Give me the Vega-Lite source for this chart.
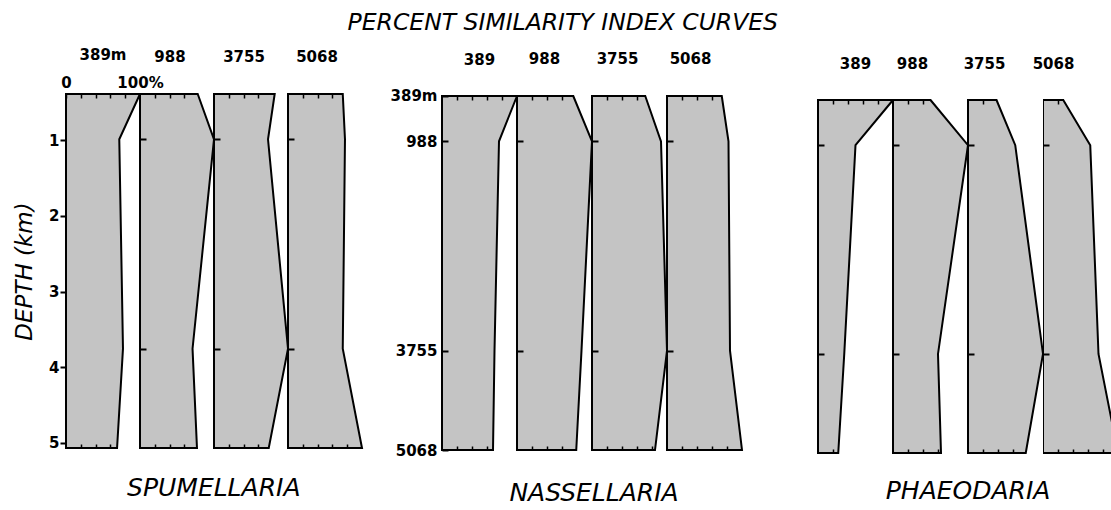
{
  "$schema": "https://vega.github.io/schema/vega-lite/v6.json",
  "background": "white",
  "padding": {"left": 13, "top": 10, "right": 0, "bottom": 0},
  "data": {"values": [
    {"group": "SPUMELLARIA", "station": 389, "depth": 389, "similarity": 100},
    {"group": "SPUMELLARIA", "station": 389, "depth": 988, "similarity": 72},
    {"group": "SPUMELLARIA", "station": 389, "depth": 3755, "similarity": 77},
    {"group": "SPUMELLARIA", "station": 389, "depth": 5068, "similarity": 69},
    {"group": "SPUMELLARIA", "station": 988, "depth": 389, "similarity": 78},
    {"group": "SPUMELLARIA", "station": 988, "depth": 988, "similarity": 100},
    {"group": "SPUMELLARIA", "station": 988, "depth": 3755, "similarity": 71},
    {"group": "SPUMELLARIA", "station": 988, "depth": 5068, "similarity": 77},
    {"group": "SPUMELLARIA", "station": 3755, "depth": 389, "similarity": 82},
    {"group": "SPUMELLARIA", "station": 3755, "depth": 988, "similarity": 73},
    {"group": "SPUMELLARIA", "station": 3755, "depth": 3755, "similarity": 100},
    {"group": "SPUMELLARIA", "station": 3755, "depth": 5068, "similarity": 74},
    {"group": "SPUMELLARIA", "station": 5068, "depth": 389, "similarity": 74},
    {"group": "SPUMELLARIA", "station": 5068, "depth": 988, "similarity": 77},
    {"group": "SPUMELLARIA", "station": 5068, "depth": 3755, "similarity": 74},
    {"group": "SPUMELLARIA", "station": 5068, "depth": 5068, "similarity": 100},
    {"group": "NASSELLARIA", "station": 389, "depth": 389, "similarity": 100},
    {"group": "NASSELLARIA", "station": 389, "depth": 988, "similarity": 76},
    {"group": "NASSELLARIA", "station": 389, "depth": 3755, "similarity": 70},
    {"group": "NASSELLARIA", "station": 389, "depth": 5068, "similarity": 68},
    {"group": "NASSELLARIA", "station": 988, "depth": 389, "similarity": 75},
    {"group": "NASSELLARIA", "station": 988, "depth": 988, "similarity": 100},
    {"group": "NASSELLARIA", "station": 988, "depth": 3755, "similarity": 86},
    {"group": "NASSELLARIA", "station": 988, "depth": 5068, "similarity": 79},
    {"group": "NASSELLARIA", "station": 3755, "depth": 389, "similarity": 71},
    {"group": "NASSELLARIA", "station": 3755, "depth": 988, "similarity": 92},
    {"group": "NASSELLARIA", "station": 3755, "depth": 3755, "similarity": 100},
    {"group": "NASSELLARIA", "station": 3755, "depth": 5068, "similarity": 84},
    {"group": "NASSELLARIA", "station": 5068, "depth": 389, "similarity": 73},
    {"group": "NASSELLARIA", "station": 5068, "depth": 988, "similarity": 82},
    {"group": "NASSELLARIA", "station": 5068, "depth": 3755, "similarity": 84},
    {"group": "NASSELLARIA", "station": 5068, "depth": 5068, "similarity": 100},
    {"group": "PHAEODARIA", "station": 389, "depth": 389, "similarity": 100},
    {"group": "PHAEODARIA", "station": 389, "depth": 988, "similarity": 50},
    {"group": "PHAEODARIA", "station": 389, "depth": 3755, "similarity": 35},
    {"group": "PHAEODARIA", "station": 389, "depth": 5068, "similarity": 27},
    {"group": "PHAEODARIA", "station": 988, "depth": 389, "similarity": 50},
    {"group": "PHAEODARIA", "station": 988, "depth": 988, "similarity": 100},
    {"group": "PHAEODARIA", "station": 988, "depth": 3755, "similarity": 60},
    {"group": "PHAEODARIA", "station": 988, "depth": 5068, "similarity": 64},
    {"group": "PHAEODARIA", "station": 3755, "depth": 389, "similarity": 38},
    {"group": "PHAEODARIA", "station": 3755, "depth": 988, "similarity": 63},
    {"group": "PHAEODARIA", "station": 3755, "depth": 3755, "similarity": 100},
    {"group": "PHAEODARIA", "station": 3755, "depth": 5068, "similarity": 77},
    {"group": "PHAEODARIA", "station": 5068, "depth": 389, "similarity": 27},
    {"group": "PHAEODARIA", "station": 5068, "depth": 988, "similarity": 63},
    {"group": "PHAEODARIA", "station": 5068, "depth": 3755, "similarity": 74},
    {"group": "PHAEODARIA", "station": 5068, "depth": 5068, "similarity": 100}
  ]},
  "title": {"text": "PERCENT SIMILARITY INDEX CURVES", "font": "DejaVu Sans", "fontStyle": "italic", "fontWeight": "normal", "fontSize": 23.5, "anchor": "middle", "frame": "bounds", "offset": 14, "color": "black"},
  "spacing": 24,
  "hconcat": [
    {
      "title": {"text": "SPUMELLARIA", "orient": "bottom", "anchor": "middle", "frame": "bounds", "dx": 24, "font": "DejaVu Sans", "fontStyle": "italic", "fontWeight": "normal", "fontSize": 25, "offset": 24},
      "bounds": "flush",
      "spacing": 0,
      "hconcat": [
        {
          "width": 74, "height": 354,
          "title": {"text": "389m", "offset": 12, "dx": 0},
          "transform": [{"filter": "datum.group === 'SPUMELLARIA' && datum.station === 389"}],
          "layer": [
            {"mark": {"type": "area", "orient": "horizontal", "fill": "#c4c4c4", "stroke": "black", "strokeWidth": 2, "strokeJoin": "miter"},
             "encoding": {
               "y": {"field": "depth", "type": "quantitative", "scale": {"domain": [389, 5068], "reverse": true, "nice": false, "zero": false},
                     "axis": {"zindex": 1, "values": [1000, 2000, 3000, 4000, 5000], "labelExpr": "'' + datum.value / 1000", "labels": true, "tickSize": 6, "tickWidth": 2, "labelFont": "DejaVu Sans", "labelFontSize": 15, "labelFontWeight": "bold", "labelColor": "black", "labelPadding": 1, "title": "DEPTH (km)", "titleFont": "DejaVu Sans", "titleFontStyle": "italic", "titleFontWeight": "normal", "titleFontSize": 23, "titleColor": "black", "titlePadding": 12}},
               "x": {"field": "similarity", "type": "quantitative", "stack": null, "scale": {"domain": [0, 100], "nice": false}, "axis": {"zindex": 1, "orient": "bottom", "offset": -4, "values": [20, 40, 60], "title": null}}
             }},
            {"mark": {"type": "point", "opacity": 0},
             "encoding": {
               "y": {"field": "depth", "type": "quantitative"},
               "x": {"field": "similarity", "type": "quantitative", "axis": {"zindex": 1, "orient": "top", "offset": -4, "values": [0, 20, 40, 60, 80, 100], "title": null, "labels": true, "labelExpr": "datum.value === 0 ? '0' : datum.value === 100 ? '100%' : ''", "labelFont": "DejaVu Sans", "labelFontSize": 15, "labelFontWeight": "bold", "labelColor": "black", "labelFlush": false, "labelOverlap": false, "labelPadding": 4}}
             }}
          ],
          "resolve": {"axis": {"x": "independent"}}
        },
        {
          "width": 74, "height": 354,
          "title": {"text": "988", "offset": 25, "dx": -7},
          "transform": [{"filter": "datum.group === 'SPUMELLARIA' && datum.station === 988"}],
          "layer": [
            {"mark": {"type": "area", "orient": "horizontal", "fill": "#c4c4c4", "stroke": "black", "strokeWidth": 2, "strokeJoin": "miter"},
             "encoding": {
               "y": {"field": "depth", "type": "quantitative", "scale": {"domain": [389, 5068], "reverse": true, "nice": false, "zero": false}, "axis": {"zindex": 1, "values": [988, 3755], "offset": -6, "tickSize": 6, "tickWidth": 2, "title": null}},
               "x": {"field": "similarity", "type": "quantitative", "stack": null, "scale": {"domain": [0, 100], "nice": false}, "axis": {"zindex": 1, "orient": "bottom", "offset": -4, "values": [20, 40, 60], "title": null}}
             }},
            {"mark": {"type": "point", "opacity": 0},
             "encoding": {
               "y": {"field": "depth", "type": "quantitative"},
               "x": {"field": "similarity", "type": "quantitative", "axis": {"zindex": 1, "orient": "top", "offset": -4, "values": [20, 40, 60], "title": null}}
             }}
          ],
          "resolve": {"axis": {"x": "independent"}}
        },
        {
          "width": 74, "height": 354,
          "title": {"text": "3755", "offset": 25, "dx": -7},
          "transform": [{"filter": "datum.group === 'SPUMELLARIA' && datum.station === 3755"}],
          "layer": [
            {"mark": {"type": "area", "orient": "horizontal", "fill": "#c4c4c4", "stroke": "black", "strokeWidth": 2, "strokeJoin": "miter"},
             "encoding": {
               "y": {"field": "depth", "type": "quantitative", "scale": {"domain": [389, 5068], "reverse": true, "nice": false, "zero": false}, "axis": {"zindex": 1, "values": [988, 3755], "offset": -6, "tickSize": 6, "tickWidth": 2, "title": null}},
               "x": {"field": "similarity", "type": "quantitative", "stack": null, "scale": {"domain": [0, 100], "nice": false}, "axis": {"zindex": 1, "orient": "bottom", "offset": -4, "values": [20, 40, 60], "title": null}}
             }},
            {"mark": {"type": "point", "opacity": 0},
             "encoding": {
               "y": {"field": "depth", "type": "quantitative"},
               "x": {"field": "similarity", "type": "quantitative", "axis": {"zindex": 1, "orient": "top", "offset": -4, "values": [20, 40, 60], "title": null}}
             }}
          ],
          "resolve": {"axis": {"x": "independent"}}
        },
        {
          "width": 74, "height": 354,
          "title": {"text": "5068", "offset": 25, "dx": -8},
          "transform": [{"filter": "datum.group === 'SPUMELLARIA' && datum.station === 5068"}],
          "layer": [
            {"mark": {"type": "area", "orient": "horizontal", "fill": "#c4c4c4", "stroke": "black", "strokeWidth": 2, "strokeJoin": "miter"},
             "encoding": {
               "y": {"field": "depth", "type": "quantitative", "scale": {"domain": [389, 5068], "reverse": true, "nice": false, "zero": false}, "axis": {"zindex": 1, "values": [988, 3755], "offset": -6, "tickSize": 6, "tickWidth": 2, "title": null}},
               "x": {"field": "similarity", "type": "quantitative", "stack": null, "scale": {"domain": [0, 100], "nice": false}, "axis": {"zindex": 1, "orient": "bottom", "offset": -4, "values": [20, 40, 60, 80], "title": null}}
             }},
            {"mark": {"type": "point", "opacity": 0},
             "encoding": {
               "y": {"field": "depth", "type": "quantitative"},
               "x": {"field": "similarity", "type": "quantitative", "axis": {"zindex": 1, "orient": "top", "offset": -4, "values": [20, 40, 60], "title": null}}
             }}
          ],
          "resolve": {"axis": {"x": "independent"}}
        }
      ]
    },
    {
      "title": {"text": "NASSELLARIA", "orient": "bottom", "anchor": "middle", "frame": "bounds", "dx": 26, "font": "DejaVu Sans", "fontStyle": "italic", "fontWeight": "normal", "fontSize": 25, "offset": 23},
      "bounds": "flush",
      "spacing": 0,
      "hconcat": [
        {
          "width": 75, "height": 356,
          "title": {"text": "389", "offset": 21, "dx": 0},
          "transform": [{"filter": "datum.group === 'NASSELLARIA' && datum.station === 389"}],
          "layer": [
            {"mark": {"type": "area", "orient": "horizontal", "fill": "#c4c4c4", "stroke": "black", "strokeWidth": 2, "strokeJoin": "miter"},
             "encoding": {
               "y": {"field": "depth", "type": "quantitative", "scale": {"domain": [362.6, 5068], "reverse": true, "nice": false, "zero": false},
                     "axis": {"zindex": 1, "values": [389, 988, 3755, 5068], "labelExpr": "datum.value === 389 ? '389m' : '' + datum.value", "labels": true, "offset": -6, "tickSize": 6, "tickWidth": 2, "labelFont": "DejaVu Sans", "labelFontSize": 15, "labelFontWeight": "bold", "labelColor": "black", "labelPadding": 5, "title": null}},
               "x": {"field": "similarity", "type": "quantitative", "stack": null, "scale": {"domain": [0, 100], "nice": false}, "axis": {"zindex": 1, "orient": "bottom", "offset": -4, "values": [20, 40, 60], "title": null}}
             }},
            {"mark": {"type": "point", "opacity": 0},
             "encoding": {
               "y": {"field": "depth", "type": "quantitative"},
               "x": {"field": "similarity", "type": "quantitative", "axis": {"zindex": 1, "orient": "top", "offset": -6, "values": [20, 40, 60, 80], "title": null}}
             }}
          ],
          "resolve": {"axis": {"x": "independent"}}
        },
        {
          "width": 75, "height": 356,
          "title": {"text": "988", "offset": 25, "dx": -10},
          "transform": [{"filter": "datum.group === 'NASSELLARIA' && datum.station === 988"}],
          "layer": [
            {"mark": {"type": "area", "orient": "horizontal", "fill": "#c4c4c4", "stroke": "black", "strokeWidth": 2, "strokeJoin": "miter"},
             "encoding": {
               "y": {"field": "depth", "type": "quantitative", "scale": {"domain": [362.6, 5068], "reverse": true, "nice": false, "zero": false}, "axis": {"zindex": 1, "values": [988, 3755], "offset": -6, "tickSize": 6, "tickWidth": 2, "title": null}},
               "x": {"field": "similarity", "type": "quantitative", "stack": null, "scale": {"domain": [0, 100], "nice": false}, "axis": {"zindex": 1, "orient": "bottom", "offset": -4, "values": [20, 40, 60], "title": null}}
             }},
            {"mark": {"type": "point", "opacity": 0},
             "encoding": {
               "y": {"field": "depth", "type": "quantitative"},
               "x": {"field": "similarity", "type": "quantitative", "axis": {"zindex": 1, "orient": "top", "offset": -6, "values": [20, 40, 60], "title": null}}
             }}
          ],
          "resolve": {"axis": {"x": "independent"}}
        },
        {
          "width": 75, "height": 356,
          "title": {"text": "3755", "offset": 25, "dx": -12},
          "transform": [{"filter": "datum.group === 'NASSELLARIA' && datum.station === 3755"}],
          "layer": [
            {"mark": {"type": "area", "orient": "horizontal", "fill": "#c4c4c4", "stroke": "black", "strokeWidth": 2, "strokeJoin": "miter"},
             "encoding": {
               "y": {"field": "depth", "type": "quantitative", "scale": {"domain": [362.6, 5068], "reverse": true, "nice": false, "zero": false}, "axis": {"zindex": 1, "values": [988, 3755], "offset": -6, "tickSize": 6, "tickWidth": 2, "title": null}},
               "x": {"field": "similarity", "type": "quantitative", "stack": null, "scale": {"domain": [0, 100], "nice": false}, "axis": {"zindex": 1, "orient": "bottom", "offset": -4, "values": [20, 40, 60, 80], "title": null}}
             }},
            {"mark": {"type": "point", "opacity": 0},
             "encoding": {
               "y": {"field": "depth", "type": "quantitative"},
               "x": {"field": "similarity", "type": "quantitative", "axis": {"zindex": 1, "orient": "top", "offset": -6, "values": [20, 40, 60], "title": null}}
             }}
          ],
          "resolve": {"axis": {"x": "independent"}}
        },
        {
          "width": 75, "height": 356,
          "title": {"text": "5068", "offset": 25, "dx": -14},
          "transform": [{"filter": "datum.group === 'NASSELLARIA' && datum.station === 5068"}],
          "layer": [
            {"mark": {"type": "area", "orient": "horizontal", "fill": "#c4c4c4", "stroke": "black", "strokeWidth": 2, "strokeJoin": "miter"},
             "encoding": {
               "y": {"field": "depth", "type": "quantitative", "scale": {"domain": [362.6, 5068], "reverse": true, "nice": false, "zero": false}, "axis": {"zindex": 1, "values": [988, 3755], "offset": -6, "tickSize": 6, "tickWidth": 2, "title": null}},
               "x": {"field": "similarity", "type": "quantitative", "stack": null, "scale": {"domain": [0, 100], "nice": false}, "axis": {"zindex": 1, "orient": "bottom", "offset": -4, "values": [20, 40, 60, 80], "title": null}}
             }},
            {"mark": {"type": "point", "opacity": 0},
             "encoding": {
               "y": {"field": "depth", "type": "quantitative"},
               "x": {"field": "similarity", "type": "quantitative", "axis": {"zindex": 1, "orient": "top", "offset": -6, "values": [20, 40, 60], "title": null}}
             }}
          ],
          "resolve": {"axis": {"x": "independent"}}
        }
      ]
    },
    {
      "title": {"text": "PHAEODARIA", "orient": "bottom", "anchor": "middle", "frame": "bounds", "dx": 27, "font": "DejaVu Sans", "fontStyle": "italic", "fontWeight": "normal", "fontSize": 25, "offset": 22},
      "bounds": "flush",
      "spacing": 0,
      "hconcat": [
        {
          "width": 75, "height": 360,
          "title": {"text": "389", "offset": 22, "dx": 0},
          "transform": [{"filter": "datum.group === 'PHAEODARIA' && datum.station === 389"}],
          "layer": [
            {"mark": {"type": "area", "orient": "horizontal", "fill": "#c4c4c4", "stroke": "black", "strokeWidth": 2, "strokeJoin": "miter"},
             "encoding": {
               "y": {"field": "depth", "type": "quantitative", "scale": {"domain": [309.5, 5081.3], "reverse": true, "nice": false, "zero": false},
                     "axis": {"zindex": 1, "values": [988, 3755], "labelExpr": "'3755'", "labels": true, "labelOpacity": 0, "offset": -6, "tickSize": 6, "tickWidth": 2, "labelFont": "DejaVu Sans", "labelFontSize": 15, "labelFontWeight": "bold", "labelPadding": 6, "title": null}},
               "x": {"field": "similarity", "type": "quantitative", "stack": null, "scale": {"domain": [0, 100], "nice": false}, "axis": {"zindex": 1, "orient": "bottom", "offset": -5, "values": [20], "title": null}}
             }},
            {"mark": {"type": "point", "opacity": 0},
             "encoding": {
               "y": {"field": "depth", "type": "quantitative"},
               "x": {"field": "similarity", "type": "quantitative", "axis": {"zindex": 1, "orient": "top", "offset": -10, "values": [20, 40, 60, 80], "title": null}}
             }}
          ],
          "resolve": {"axis": {"x": "independent"}}
        },
        {
          "width": 75, "height": 360,
          "title": {"text": "988", "offset": 22, "dx": -18},
          "transform": [{"filter": "datum.group === 'PHAEODARIA' && datum.station === 988"}],
          "layer": [
            {"mark": {"type": "area", "orient": "horizontal", "fill": "#c4c4c4", "stroke": "black", "strokeWidth": 2, "strokeJoin": "miter"},
             "encoding": {
               "y": {"field": "depth", "type": "quantitative", "scale": {"domain": [309.5, 5081.3], "reverse": true, "nice": false, "zero": false}, "axis": {"zindex": 1, "values": [988, 3755], "offset": -6, "tickSize": 6, "tickWidth": 2, "title": null}},
               "x": {"field": "similarity", "type": "quantitative", "stack": null, "scale": {"domain": [0, 100], "nice": false}, "axis": {"zindex": 1, "orient": "bottom", "offset": -5, "values": [20, 40, 60], "title": null}}
             }},
            {"mark": {"type": "point", "opacity": 0},
             "encoding": {
               "y": {"field": "depth", "type": "quantitative"},
               "x": {"field": "similarity", "type": "quantitative", "axis": {"zindex": 1, "orient": "top", "offset": -10, "values": [20, 40], "title": null}}
             }}
          ],
          "resolve": {"axis": {"x": "independent"}}
        },
        {
          "width": 75, "height": 360,
          "title": {"text": "3755", "offset": 22, "dx": -21},
          "transform": [{"filter": "datum.group === 'PHAEODARIA' && datum.station === 3755"}],
          "layer": [
            {"mark": {"type": "area", "orient": "horizontal", "fill": "#c4c4c4", "stroke": "black", "strokeWidth": 2, "strokeJoin": "miter"},
             "encoding": {
               "y": {"field": "depth", "type": "quantitative", "scale": {"domain": [309.5, 5081.3], "reverse": true, "nice": false, "zero": false}, "axis": {"zindex": 1, "values": [988, 3755], "offset": -6, "tickSize": 6, "tickWidth": 2, "title": null}},
               "x": {"field": "similarity", "type": "quantitative", "stack": null, "scale": {"domain": [0, 100], "nice": false}, "axis": {"zindex": 1, "orient": "bottom", "offset": -5, "values": [20, 40, 60], "title": null}}
             }},
            {"mark": {"type": "point", "opacity": 0},
             "encoding": {
               "y": {"field": "depth", "type": "quantitative"},
               "x": {"field": "similarity", "type": "quantitative", "axis": {"zindex": 1, "orient": "top", "offset": -10, "values": [20], "title": null}}
             }}
          ],
          "resolve": {"axis": {"x": "independent"}}
        },
        {
          "width": 69, "height": 360,
          "title": {"text": "5068", "offset": 22, "dx": -24},
          "transform": [{"filter": "datum.group === 'PHAEODARIA' && datum.station === 5068"}],
          "layer": [
            {"mark": {"type": "area", "orient": "horizontal", "fill": "#c4c4c4", "stroke": "black", "strokeWidth": 2, "strokeJoin": "miter", "clip": true},
             "encoding": {
               "y": {"field": "depth", "type": "quantitative", "scale": {"domain": [309.5, 5081.3], "reverse": true, "nice": false, "zero": false}, "axis": {"zindex": 1, "values": [988, 3755], "offset": -6, "tickSize": 6, "tickWidth": 2, "title": null}},
               "x": {"field": "similarity", "type": "quantitative", "stack": null, "scale": {"domain": [0, 92], "nice": false}, "axis": {"zindex": 1, "orient": "bottom", "offset": -5, "values": [20, 40, 60, 80], "title": null}}
             }},
            {"mark": {"type": "point", "opacity": 0, "clip": true},
             "encoding": {
               "y": {"field": "depth", "type": "quantitative"},
               "x": {"field": "similarity", "type": "quantitative", "axis": {"zindex": 1, "orient": "top", "offset": -10, "values": [20], "title": null}}
             }}
          ],
          "resolve": {"axis": {"x": "independent"}}
        }
      ]
    }
  ],
  "config": {
    "view": {"stroke": null},
    "axis": {"domain": false, "grid": false, "labels": false, "ticks": true, "tickColor": "black", "tickWidth": 1.5, "tickSize": 4},
    "title": {"font": "DejaVu Sans", "fontSize": 15, "fontWeight": "bold", "color": "black", "anchor": "middle", "frame": "group"}
  }
}
